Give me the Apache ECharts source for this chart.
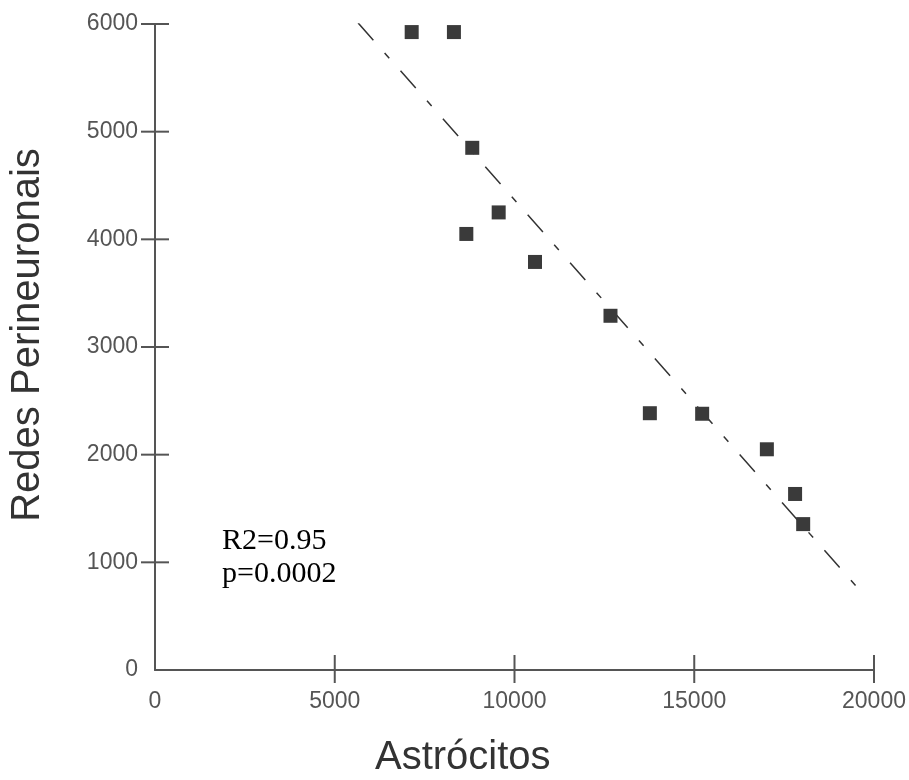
<!DOCTYPE html>
<html>
<head>
<meta charset="utf-8">
<script src="https://cdn.jsdelivr.net/npm/echarts@6/dist/echarts.min.js"></script>
<style>
  html, body { margin: 0; padding: 0; background: #fff; }
  #chart { width: 909px; height: 780px; }
</style>
</head>
<body>
<div id="chart"></div>
<script>
// Astrocyte counts vs. perineuronal nets, one point per sample
const astrocitos = [7140, 8315, 8825, 9560, 8660, 10570, 12670, 13765, 15220, 17020, 17805, 18030];
const redesPerineuronais = [5925, 5925, 4850, 4250, 4050, 3790, 3290, 2385, 2380, 2050, 1635, 1355];

// Linear fit, drawn between its two end points
const fitX = [5650, 19670];
const fitY = [6010, 715];

// Axis ranges and ticks
const xRange = [0, 20000];
const xStep = 5000;
const yRange = [0, 6000];
const yStep = 1000;
const xTickValues = [5000, 10000, 15000, 20000];
const yTickValues = [1000, 2000, 3000, 4000, 5000, 6000];

const xTitle = 'Astrócitos';
const yTitle = 'Redes Perineuronais';
const statsLines = ['R2=0.95', 'p=0.0002'];

const axisGray = '#555';
const labelFont = 'Liberation Sans, Arial, sans-serif';

const chart = echarts.init(document.getElementById('chart'), null, { renderer: 'canvas' });

const points = astrocitos.map((x, i) => [x, redesPerineuronais[i]]);
const fitLine = fitX.map((x, i) => [x, fitY[i]]);
const plain = v => String(v);

// Tick marks that cross the axis line (pixel half-lengths on each side)
const tickStyle = { stroke: axisGray, lineWidth: 2 };
function crossTicks(dim) {
  return function (params, api) {
    const v = api.value(dim);
    const p = dim === 0 ? api.coord([v, yRange[0]]) : api.coord([xRange[0], v]);
    const shape = dim === 0
      ? { x1: p[0], y1: p[1] - 15, x2: p[0], y2: p[1] + 13 }
      : { x1: p[0] - 14, y1: p[1], x2: p[0] + 14, y2: p[1] };
    return { type: 'line', shape: shape, style: tickStyle };
  };
}

chart.setOption({
  animation: false,
  backgroundColor: '#fff',
  grid: { left: 155, right: 35, top: 24, bottom: 110, containLabel: false },
  xAxis: {
    type: 'value', min: xRange[0], max: xRange[1], interval: xStep,
    axisLine: { show: true, onZero: false, lineStyle: { color: axisGray, width: 2 } },
    axisTick: { show: false },
    axisLabel: { color: axisGray, fontFamily: labelFont, fontSize: 23, margin: 20, formatter: plain },
    splitLine: { show: false }
  },
  yAxis: {
    type: 'value', min: yRange[0], max: yRange[1], interval: yStep,
    axisLine: { show: true, onZero: false, lineStyle: { color: axisGray, width: 2 } },
    axisTick: { show: false },
    axisLabel: { color: axisGray, fontFamily: labelFont, fontSize: 23, margin: 17, formatter: plain },
    splitLine: { show: false }
  },
  series: [
    {
      name: 'xTicks',
      type: 'custom',
      clip: false,
      silent: true,
      data: xTickValues.map(v => [v, yRange[0]]),
      renderItem: crossTicks(0),
      z: 1
    },
    {
      name: 'yTicks',
      type: 'custom',
      clip: false,
      silent: true,
      data: yTickValues.map(v => [xRange[0], v]),
      encode: { x: 0, y: 1 },
      renderItem: crossTicks(1),
      z: 1
    },
    {
      name: 'Ajuste linear',
      type: 'line',
      data: fitLine,
      symbol: 'none',
      silent: true,
      lineStyle: { color: '#333', width: 1.5, type: [23, 17, 7, 17] },
      z: 2
    },
    {
      name: 'Amostras',
      type: 'scatter',
      data: points,
      symbol: 'rect',
      symbolSize: 14,
      itemStyle: { color: '#3a3a3a', opacity: 1 },
      z: 3
    }
  ],
  graphic: [
    {
      type: 'text', left: 222, top: 525,
      style: {
        text: statsLines.join('\n'),
        font: '30px "Liberation Serif", "Times New Roman", serif',
        lineHeight: 33,
        fill: '#000'
      }
    },
    {
      type: 'text', left: 375, top: 738,
      style: {
        text: xTitle,
        font: '40px "Liberation Sans", Arial, sans-serif',
        fill: '#333'
      }
    },
    {
      type: 'text', x: 28, y: 335, rotation: Math.PI / 2,
      style: {
        text: yTitle,
        font: '40px "Liberation Sans", Arial, sans-serif',
        fill: '#333',
        align: 'center',
        verticalAlign: 'middle'
      }
    }
  ]
});
</script>
</body>
</html>
